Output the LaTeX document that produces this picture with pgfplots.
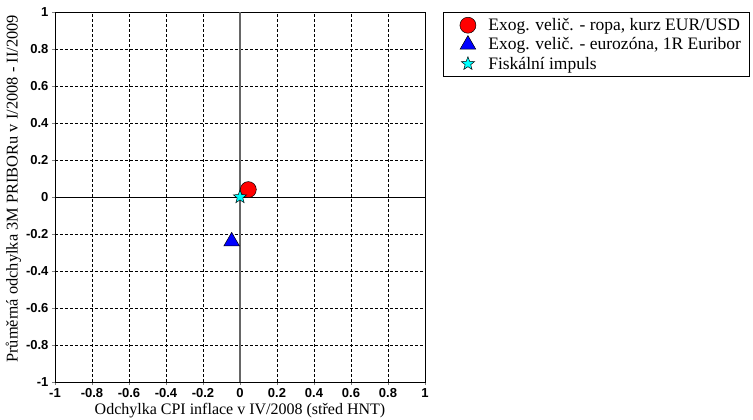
\documentclass[border=0pt]{standalone}
\usepackage{fontspec}
\setmainfont{Liberation Serif}
\newfontfamily\arialfont{Liberation Sans}
\usepackage{pgfplots}
\pgfplotsset{compat=1.18}
\definecolor{starcyan}{RGB}{0,255,255}
\definecolor{mred}{RGB}{255,0,0}
\definecolor{mblue}{RGB}{0,0,255}

% filled five-pointed star mark
\pgfdeclareplotmark{fstar}{%
  \pgfpathmoveto{\pgfpointpolar{90}{\pgfplotmarksize}}%
  \foreach \k in {1,...,9}{%
    \pgfmathsetmacro{\ang}{90+36*\k}%
    \ifodd\k
      \pgfpathlineto{\pgfpointpolar{\ang}{0.42\pgfplotmarksize}}%
    \else
      \pgfpathlineto{\pgfpointpolar{\ang}{\pgfplotmarksize}}%
    \fi
  }%
  \pgfpathclose
  \pgfusepathqfillstroke
}

% wider legend image with the mark in the middle
\pgfplotsset{widemark/.style={
  legend image code/.code={%
    \path (0pt,0pt) (36pt,0pt);
    \draw[mark repeat=2, mark phase=2, ##1]
      plot coordinates {(0pt,0pt) (18pt,0pt) (36pt,0pt)};}}}

\begin{document}
\begin{tikzpicture}
\path[use as bounding box] (-55pt,-38pt) rectangle (698pt,382pt);
\begin{axis}[
  at={(0pt,0pt)}, anchor=south west,
  width=370pt, height=370pt, scale only axis,
  xmin=-1, xmax=1, ymin=-1, ymax=1,
  xtick={-1,-0.8,...,1.01}, ytick={-1,-0.8,...,1.01},
  xticklabels={-1,-0.8,-0.6,-0.4,-0.2,0,0.2,0.4,0.6,0.8,1},
  yticklabels={-1,-0.8,-0.6,-0.4,-0.2,0,0.2,0.4,0.6,0.8,1},
  /pgf/number format/assume math mode=true,
  tick label style={font=\arialfont\bfseries\fontsize{13}{14}\selectfont},
  tick align=outside, major tick length=3pt,
  xtick pos=bottom, ytick pos=left,
  grid=major,
  major grid style={black, dash pattern=on 3pt off 2pt, line width=0.5pt},
  axis line style={black, line width=0.8pt},
  xlabel={Odchylka CPI inflace v IV/2008 (střed HNT)},
  ylabel={Průměrná odchylka 3M PRIBORu v I/2008 - II/2009},
  xlabel style={font=\fontsize{16}{18}\selectfont,
    at={(axis description cs:0.5,-0.076)}, anchor=center},
  ylabel style={font=\fontsize{16.4}{18}\selectfont,
    at={(axis description cs:-0.112,0.522)}, anchor=center},
  legend style={at={(rel axis cs:1.049,1)}, anchor=north west,
    draw=black, line width=0.8pt, font=\fontsize{17.5}{20}\selectfont,
    inner xsep=6pt, inner ysep=4pt, row sep=1.5pt},
  legend cell align=left,
]
\draw[black, line width=0.8pt] (axis cs:-1,0) -- (axis cs:1,0);
\draw[black!60, line width=1.2pt] (axis cs:0,-1) -- (axis cs:0,1);

\addplot[only marks, widemark, mark=*, mark size=8pt,
  mark options={fill=mred, draw=black, line width=0.5pt}]
  coordinates {(0.045,0.04)};
\addlegendentry{Exog. velič. - ropa, kurz EUR/USD}

\addplot[only marks, widemark, mark=triangle*, mark size=9pt,
  mark options={fill=mblue, draw=black, line width=0.5pt}]
  coordinates {(-0.045,-0.24)};
\addlegendentry{Exog. velič. - eurozóna, 1R Euribor}

\addplot[only marks, widemark, mark=fstar, mark size=7pt,
  mark options={fill=starcyan, draw=black, line width=0.5pt}]
  coordinates {(0,0)};
\addlegendentry{Fiskální impuls}
\end{axis}
\end{tikzpicture}
\end{document}
